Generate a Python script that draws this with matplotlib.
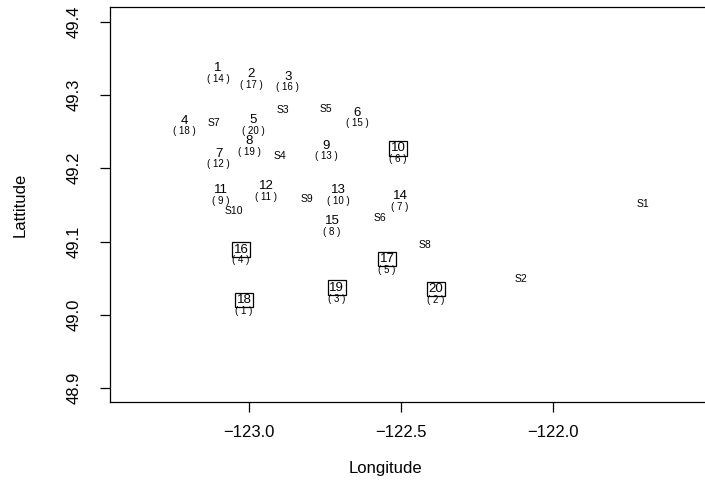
import matplotlib
matplotlib.use("Agg")
import matplotlib.pyplot as plt

plt.rcParams['font.family'] = ['Liberation Sans', 'DejaVu Sans']

# station number, position and rank
stations = list(range(1, 21))
st_lon = [-123.102, -122.993, -122.872, -123.211, -122.987, -122.645, -123.099,
          -123.000, -122.747, -122.510, -123.092, -122.944, -122.707, -122.503,
          -122.727, -123.026, -122.546, -123.016, -122.711, -122.385]
st_lat = [49.337, 49.329, 49.325, 49.265, 49.266, 49.276, 49.220, 49.237,
          49.231, 49.227, 49.170, 49.176, 49.170, 49.162, 49.128, 49.089,
          49.076, 49.020, 49.037, 49.035]
ranks = [14, 17, 16, 18, 20, 15, 12, 19, 13, 6, 9, 11, 10, 7, 8, 4, 5, 1, 3, 2]

# sites S1..S10
site_names = ["S1", "S2", "S3", "S4", "S5", "S6", "S7", "S8", "S9", "S10"]
site_lon = [-121.704, -122.105, -122.888, -122.898, -122.747, -122.569,
            -123.115, -122.421, -122.809, -123.049]
site_lat = [49.151, 49.049, 49.280, 49.217, 49.281, 49.132, 49.262, 49.095,
            49.158, 49.142]

fig = plt.figure(figsize=(7.05, 4.82), dpi=100)
ax = fig.add_axes([110 / 705, 80 / 482, 610 / 705, 395 / 482])

for s, x, y, r in zip(stations, st_lon, st_lat, ranks):
    if r <= 6:
        ax.text(x, y, str(s), ha='center', va='center', fontsize=9.5,
                bbox=dict(boxstyle='square,pad=0.1', fc='white', ec='black', lw=0.9))
    else:
        ax.text(x, y, str(s), ha='center', va='center', fontsize=9.5)
    ax.annotate("( %d )" % r, (x, y), xytext=(0, -7.8), textcoords='offset points',
                ha='center', va='center', fontsize=7)

for name, x, y in zip(site_names, site_lon, site_lat):
    ax.text(x, y, name, ha='center', va='center', fontsize=7.5)

ax.set_xlim(-123.457, -121.451)
ax.set_ylim(48.881, 49.420)
ax.set_xticks([-123.0, -122.5, -122.0])
ax.set_xticklabels(["\u2212123.0", "\u2212122.5", "\u2212122.0"])
ax.set_yticks([48.9, 49.0, 49.1, 49.2, 49.3, 49.4])
ax.set_yticklabels(["48.9", "49.0", "49.1", "49.2", "49.3", "49.4"],
                   rotation=90, va='center')
ax.tick_params(direction='out', length=7.5, width=0.9, labelsize=12)
ax.tick_params(axis='x', pad=9)
ax.tick_params(axis='y', pad=13)
for sp in ax.spines.values():
    sp.set_linewidth(0.9)

fig.text(20 / 705, 1 - 205 / 482, "Lattitude", rotation=90, ha='center',
         va='center', fontsize=12)
fig.text(385 / 705, 1 - 468 / 482, "Longitude", ha='center', va='center',
         fontsize=12)

fig.savefig("out.png", dpi=100)
